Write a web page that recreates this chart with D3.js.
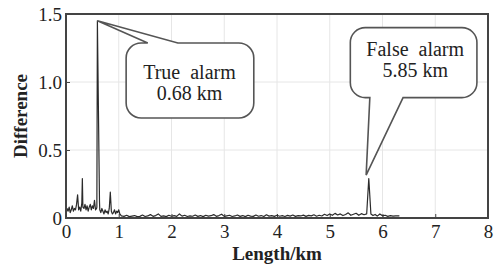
<!DOCTYPE html>
<html>
<head>
<meta charset="utf-8">
<script src="https://cdn.jsdelivr.net/npm/d3@7"></script>
<style>
	body { margin: 0; background: #fff; }
	svg { display: block; }
	.grid line { stroke: #e6e6e6; stroke-width: 1; }
</style>
</head>
<body>
<svg width="494" height="266"></svg>
<script>
// distance along the line (km)
var lengthKm = [
	0.00, 0.02, 0.04, 0.06, 0.08, 0.10, 0.12, 0.14, 0.16, 0.18,
	0.20, 0.22, 0.24, 0.26, 0.28, 0.30, 0.31, 0.32, 0.34, 0.36,
	0.38, 0.40, 0.42, 0.44, 0.46, 0.48, 0.50, 0.52, 0.54, 0.56,
	0.58, 0.585, 0.595, 0.635, 0.64, 0.66, 0.68, 0.70, 0.72, 0.74,
	0.76, 0.78, 0.80, 0.82, 0.84, 0.86, 0.88, 0.90, 0.92, 0.94,
	0.96, 0.98, 1.00, 1.02, 1.05, 1.10, 1.15, 1.20, 1.25, 1.30,
	1.35, 1.40, 1.45, 1.50, 1.55, 1.60, 1.65, 1.70, 1.75, 1.80,
	1.85, 1.90, 1.95, 2.00, 2.05, 2.10, 2.15, 2.20, 2.25, 2.30,
	2.35, 2.40, 2.45, 2.50, 2.55, 2.60, 2.65, 2.70, 2.75, 2.80,
	2.85, 2.90, 2.95, 3.00, 3.05, 3.10, 3.15, 3.20, 3.25, 3.30,
	3.35, 3.40, 3.45, 3.50, 3.55, 3.60, 3.65, 3.70, 3.75, 3.80,
	3.85, 3.90, 3.95, 4.00, 4.05, 4.10, 4.15, 4.20, 4.25, 4.30,
	4.35, 4.40, 4.45, 4.50, 4.55, 4.60, 4.65, 4.70, 4.75, 4.80,
	4.85, 4.90, 4.95, 5.00, 5.05, 5.10, 5.15, 5.20, 5.25, 5.30,
	5.35, 5.40, 5.45, 5.50, 5.55, 5.60, 5.65, 5.70, 5.74, 5.78,
	5.82, 5.86, 5.90, 5.95, 6.00, 6.05, 6.10, 6.15, 6.20, 6.25,
	6.32
];

// difference value at each point
var difference = [
	0.04, 0.07, 0.05, 0.08, 0.04, 0.06, 0.09, 0.05, 0.07, 0.06,
	0.10, 0.17, 0.06, 0.08, 0.05, 0.11, 0.29, 0.08, 0.07, 0.10,
	0.06, 0.09, 0.05, 0.08, 0.10, 0.06, 0.09, 0.07, 0.13, 0.06,
	0.07, 0.08, 1.45, 0.12, 0.06, 0.04, 0.07, 0.05, 0.03, 0.06,
	0.04, 0.05, 0.03, 0.07, 0.19, 0.05, 0.03, 0.04, 0.06, 0.03,
	0.05, 0.04, 0.06, 0.03, 0.015, 0.012, 0.020, 0.010, 0.014, 0.018,
	0.010, 0.012, 0.022, 0.011, 0.015, 0.025, 0.012, 0.018, 0.030, 0.012,
	0.016, 0.010, 0.020, 0.013, 0.018, 0.012, 0.030, 0.014, 0.020, 0.011,
	0.016, 0.013, 0.022, 0.012, 0.018, 0.010, 0.020, 0.014, 0.017, 0.025,
	0.012, 0.018, 0.028, 0.012, 0.016, 0.020, 0.011, 0.015, 0.022, 0.012,
	0.018, 0.010, 0.020, 0.014, 0.012, 0.022, 0.013, 0.018, 0.011, 0.024,
	0.014, 0.018, 0.012, 0.020, 0.013, 0.017, 0.011, 0.019, 0.014, 0.022,
	0.012, 0.018, 0.015, 0.021, 0.012, 0.019, 0.016, 0.024, 0.013, 0.020,
	0.015, 0.027, 0.018, 0.030, 0.020, 0.034, 0.022, 0.030, 0.018, 0.026,
	0.038, 0.020, 0.028, 0.035, 0.020, 0.032, 0.024, 0.030, 0.29, 0.030,
	0.018, 0.026, 0.014, 0.030, 0.016, 0.020, 0.012, 0.018, 0.014, 0.016,
	0.015
];

var xTicks = [0, 1, 2, 3, 4, 5, 6, 7, 8];
var yTicks = [0, 0.5, 1.0, 1.5];
var yTickLabels = ["0", "0.5", "1.0", "1.5"];

// callouts: tip, box corners and text all in data units
var callouts = [
	{ lines: ["True  alarm", "0.68 km"], tip: [0.595, 1.45],
	  box: [1.14, 3.56, 1.287, 0.735], base: [1.55, 2.12], side: "top", text: [2.34, 1.02, 0.865] },
	{ lines: ["False  alarm", "5.85 km"], tip: [5.69, 0.315],
	  box: [5.39, 7.79, 1.40, 0.885], base: [5.76, 6.39], side: "bottom", text: [6.62, 1.19, 1.04] }
];

var FONT = "Liberation Serif";

var svg = d3.select("svg"),
    margin = { top: 14, right: 6, bottom: 48, left: 66 },
    width = +svg.attr("width") - margin.left - margin.right,
    height = +svg.attr("height") - margin.top - margin.bottom;

var x = d3.scaleLinear().domain([0, 8]).range([0, width]);
var y = d3.scaleLinear().domain([0, 1.5]).range([height, 0]);

var g = svg.append("g").attr("transform", "translate(" + margin.left + "," + margin.top + ")");

// grid
g.append("g")
	.attr("class", "grid")
	.selectAll("line.gx")
	.data(xTicks.slice(1, -1))
	.enter().append("line")
	.attr("x1", function(d) { return x(d); })
	.attr("x2", function(d) { return x(d); })
	.attr("y1", 0)
	.attr("y2", height);

g.append("g")
	.attr("class", "grid")
	.selectAll("line.gy")
	.data(yTicks.slice(1, -1))
	.enter().append("line")
	.attr("x1", 0)
	.attr("x2", width)
	.attr("y1", function(d) { return y(d); })
	.attr("y2", function(d) { return y(d); });

// axes
var xAxis = g.append("g")
	.attr("transform", "translate(0," + height + ")")
	.call(d3.axisBottom(x).tickValues(xTicks).tickFormat(d3.format("d")).tickSizeInner(-4).tickSizeOuter(0).tickPadding(8));

var yAxis = g.append("g")
	.call(d3.axisLeft(y).tickValues(yTicks)
		.tickFormat(function(d, i) { return yTickLabels[i]; })
		.tickSizeInner(-4).tickSizeOuter(0).tickPadding(4));

[xAxis, yAxis].forEach(function(a) {
	a.attr("font-family", FONT).attr("font-size", 19);
	a.select(".domain").remove();
	a.selectAll(".tick line").attr("stroke", "#444").attr("stroke-width", 1);
	a.selectAll(".tick text").attr("fill", "#222");
});
xAxis.selectAll(".tick text").attr("dy", "0.62em");

// the signal
var line = d3.line()
	.x(function(d) { return x(d[0]); })
	.y(function(d) { return y(d[1]); });

g.append("path")
	.datum(d3.zip(lengthKm, difference))
	.attr("fill", "none")
	.attr("stroke", "#2b2b2b")
	.attr("stroke-width", 1.2)
	.attr("stroke-linejoin", "round")
	.attr("d", line);

// frame
g.append("rect")
	.attr("width", width)
	.attr("height", height)
	.attr("fill", "none")
	.attr("stroke", "#444")
	.attr("stroke-width", 2);

// callouts
function calloutPath(c) {
	var x0 = x(c.box[0]), x1 = x(c.box[1]),
	    y0 = y(c.box[2]), y1 = y(c.box[3]),
	    r = 15,
	    bx0 = x(c.base[0]), bx1 = x(c.base[1]),
	    tx = x(c.tip[0]), ty = y(c.tip[1]);
	var p = d3.path();
	p.moveTo(x0 + r, y0);
	if (c.side == "top") { p.lineTo(bx0, y0); p.lineTo(tx, ty); p.lineTo(bx1, y0); }
	p.lineTo(x1 - r, y0);
	p.arcTo(x1, y0, x1, y0 + r, r);
	p.lineTo(x1, y1 - r);
	p.arcTo(x1, y1, x1 - r, y1, r);
	if (c.side == "bottom") { p.lineTo(bx1, y1); p.lineTo(tx, ty); p.lineTo(bx0, y1); }
	p.lineTo(x0 + r, y1);
	p.arcTo(x0, y1, x0, y1 - r, r);
	p.lineTo(x0, y0 + r);
	p.arcTo(x0, y0, x0 + r, y0, r);
	p.closePath();
	return p.toString();
}

var note = g.selectAll("g.note")
	.data(callouts)
	.enter().append("g");

note.append("path")
	.attr("d", calloutPath)
	.attr("fill", "#fff")
	.attr("stroke", "#555")
	.attr("stroke-width", 1.6)
	.attr("stroke-linejoin", "miter");

note.each(function(c) {
	d3.select(this).selectAll("text")
		.data(c.lines)
		.enter().append("text")
		.attr("font-family", FONT)
		.attr("font-size", 20)
		.attr("fill", "#222")
		.attr("text-anchor", "middle")
		.style("white-space", "pre")
		.attr("x", x(c.text[0]))
		.attr("y", function(d, i) { return y(c.text[i + 1]); })
		.text(function(d) { return d; });
});

// titles
svg.append("text")
	.attr("font-family", FONT)
	.attr("font-size", 19)
	.attr("font-weight", "bold")
	.attr("fill", "#222")
	.attr("text-anchor", "middle")
	.attr("transform", "translate(27," + (margin.top + height / 2) + ") rotate(-90)")
	.text("Difference");

svg.append("text")
	.attr("font-family", FONT)
	.attr("font-size", 19)
	.attr("font-weight", "bold")
	.attr("fill", "#222")
	.attr("text-anchor", "middle")
	.attr("x", margin.left + width / 2)
	.attr("y", 260)
	.text("Length/km");
</script>
</body>
</html>
